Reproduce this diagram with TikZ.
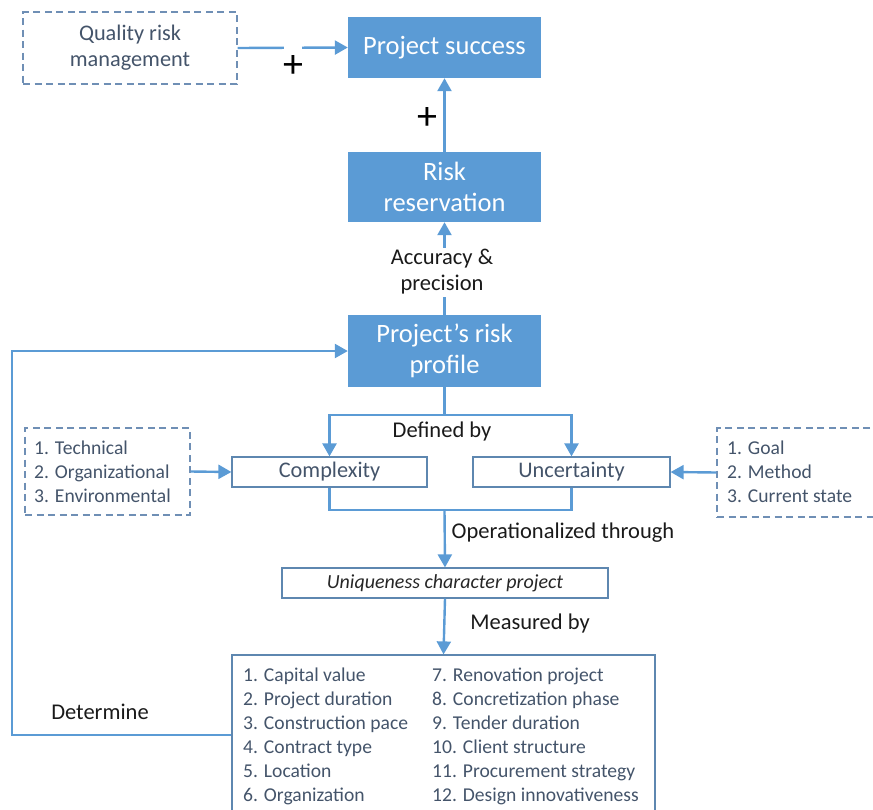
\documentclass[tikz,border=0pt]{standalone}
\usepackage{fontspec}
\setmainfont{Carlito}
\usetikzlibrary{arrows.meta,positioning}
\definecolor{bl}{HTML}{5B9BD5}
\definecolor{lc}{HTML}{5B9BD5}
\definecolor{bord}{HTML}{5E87B0}
\definecolor{dashc}{HTML}{6F8FB5}
\definecolor{tc}{HTML}{44546A}
\definecolor{lab}{HTML}{1A1A1A}
\tikzset{
  bluebox/.style={fill=bl, draw=none, text=white, align=center, minimum width=193pt,
    font=\fontsize{26.5}{31}\selectfont, inner sep=0pt},
  wbox/.style={draw=bord, line width=1.2pt, text=tc, inner sep=0pt, align=center},
  dbox/.style={draw=dashc, line width=1.1pt, dash pattern=on 7pt off 4.5pt, text=tc, inner sep=0pt},
  conn/.style={draw=lc, line width=2.4pt, -{Triangle[length=13pt,width=14pt]}},
  plain/.style={draw=lc, line width=2.4pt},
  lbl/.style={text=lab, font=\fontsize{22.5}{26}\selectfont, align=center, inner sep=1pt},
  plus/.style={text=black, font=\fontsize{40}{40}\selectfont, inner sep=0pt},
  listt/.style={text=tc, font=\fontsize{19.6}{24}\selectfont, align=left, anchor=north west, inner sep=0pt}
}
\begin{document}
\begin{tikzpicture}[x=1pt,y=-1pt]
\useasboundingbox (0,0) rectangle (873,809);
% top
\node[dbox, minimum width=214pt, minimum height=72pt, align=center,
  font=\fontsize{22.3}{26}\selectfont] (qrm) at (130,48) {Quality risk\\management};
\node[bluebox, minimum height=61pt] (ps) at (444.5,47.5) {Project success};
\node[bluebox, minimum height=70pt] (rr) at (444.5,187) {Risk\\reservation};
\node[bluebox, minimum height=72pt] (prp) at (444.5,351) {Project’s risk\\profile};
\draw[conn] (qrm.east) -- (ps.west);
\draw[white, line width=4pt] (284,47) -- (302,47);
\node[plus] (p1) at (293,67) {+};
\node[plus] (p2) at (427,119) {+};
\draw[conn] (rr.north) -- (ps.south);
\draw[conn] (prp.north) -- (rr.south);
\node[lbl, fill=white, inner sep=2pt] (acc) at (442,272) {Accuracy \&\\precision};
% defined by
\node[wbox, minimum width=195pt, minimum height=30pt, font=\fontsize{22.3}{26}\selectfont] (cx) at (329.5,472) {Complexity};
\node[wbox, minimum width=197pt, minimum height=30pt, font=\fontsize{22.3}{26}\selectfont] (un) at (571.5,472) {Uncertainty};
\coordinate (db) at (444.5,415);
\draw[plain] (prp.south) -- (db);
\draw[conn] (db) -| (cx.north);
\draw[conn] (db) -| (un.north);
\node[lbl] (dbl) at (442,431) {Defined by};
% side lists
\node[dbox, minimum width=165pt, minimum height=87pt] (lt) at (107.5,471.5) {};
\node[listt] (ltt) at (34,441) {1. Technical\\2. Organizational\\3. Environmental};
\node[dbox, minimum width=170pt, minimum height=89pt] (rt) at (802,472.5) {};
\node[listt] (rtt) at (727,441) {1. Goal\\2. Method\\3. Current state};
\draw[conn] (lt.east) -- (cx.west);
\draw[conn] (rt.west) -- (un.east);
% operationalized
\node[wbox, minimum width=326pt, minimum height=30pt, text=black!85,
  font=\itshape\fontsize{20}{24}\selectfont] (uq) at (445,583) {Uniqueness character project};
\coordinate (ju) at (444.5,510);
\draw[plain] (cx.south) |- (ju) -| (un.south);
\draw[conn] (ju) -- (uq.north);
\node[lbl] (opl) at (563,533) {Operationalized through};
% measured
\node[wbox, minimum width=423pt, minimum height=160pt] (ms) at (443.5,735) {};
\draw[conn] (uq.south) -- (ms.north);
\node[lbl] (msl) at (530,623) {Measured by};
\node[listt] (ml) at (243,667.5) {1. Capital value\\2. Project duration\\3. Construction pace\\4. Contract type\\5. Location\\6. Organization};
\node[listt] (mr) at (432,667.5) {7. Renovation project\\8. Concretization phase\\9. Tender duration\\10. Client structure\\11. Procurement strategy\\12. Design innovativeness};
% feedback
\coordinate (f1) at (12,735);
\coordinate (f2) at (12,351);
\draw[conn] (ms.west) -- (f1) -- (f2) -- (prp.west);
\node[lbl] (det) at (100,712) {Determine};
\end{tikzpicture}
\end{document}
